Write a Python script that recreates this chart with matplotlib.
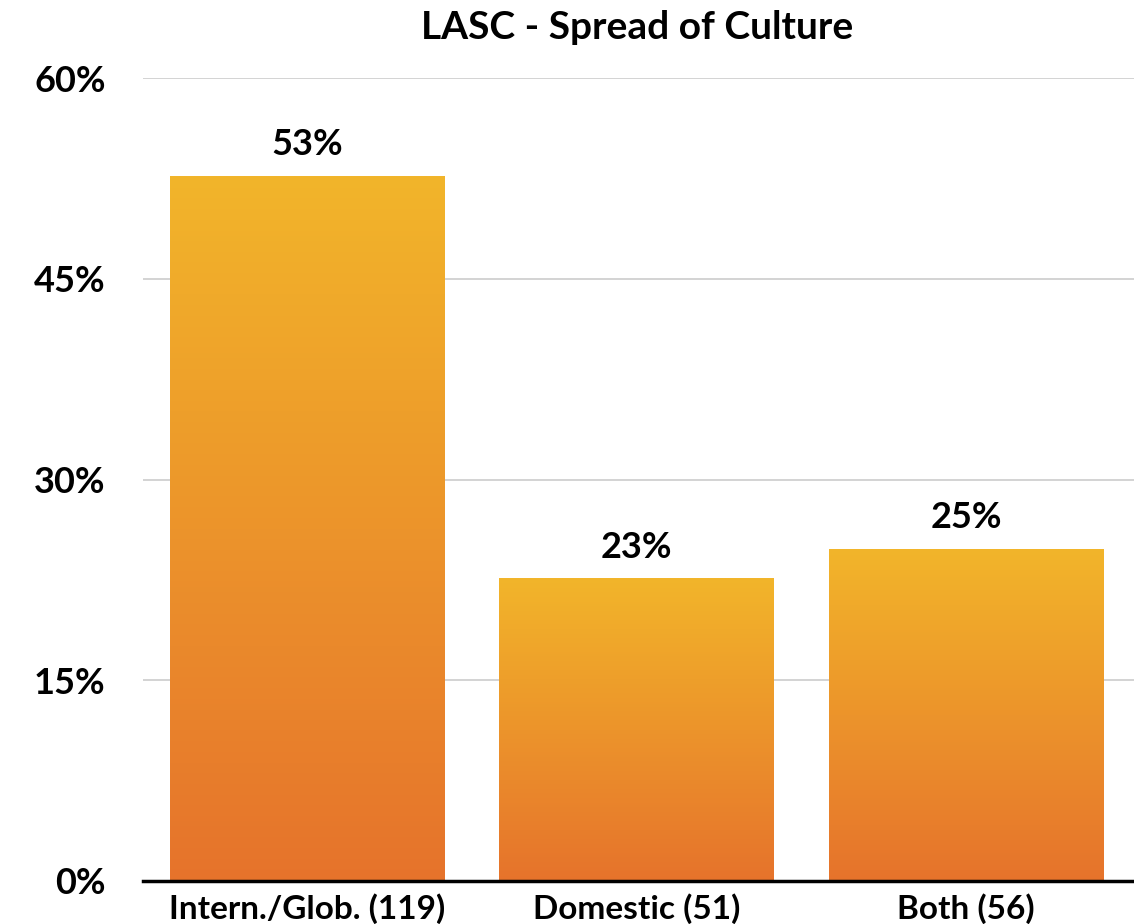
import numpy as np
import matplotlib.pyplot as plt
from matplotlib.colors import LinearSegmentedColormap

plt.rcParams['font.family'] = ['Lato', 'DejaVu Sans']
plt.rcParams['font.weight'] = 'bold'

categories = ['Intern./Glob. (119)', 'Domestic (51)', 'Both (56)']
values = [52.65, 22.57, 24.78]
value_labels = ['53%', '23%', '25%']
yticks = [0, 15, 30, 45, 60]

top_color = '#F2B52A'
bottom_color = '#E6732C'
cmap = LinearSegmentedColormap.from_list('grad', [bottom_color, top_color])

fig = plt.figure(figsize=(11.34, 9.24), dpi=100)
ax = fig.add_axes([143 / 1134, 43 / 924, 991 / 1134, 803 / 924])

x = np.arange(len(categories))
bars = ax.bar(x, values, width=0.835, color='none', zorder=3)

grad = np.linspace(0, 1, 256).reshape(-1, 1)
for b in bars:
    x0, w, h = b.get_x(), b.get_width(), b.get_height()
    ax.imshow(grad, cmap=cmap, origin='lower', aspect='auto',
              extent=[x0, x0 + w, 0, h], zorder=3)

for xi, v, lab in zip(x, values, value_labels):
    ax.annotate(lab, (xi, v), xytext=(0, 11), textcoords='offset points',
                ha='center', va='bottom', fontsize=26)

ax.set_xlim(-0.5, 2.51)
ax.set_ylim(0, 60)
ax.set_yticks(yticks)
ax.set_yticklabels([f'{t}%' for t in yticks], fontsize=26)
ax.set_xticks(x)
ax.set_xticklabels(categories, fontsize=24)
ax.tick_params(axis='both', length=0)
ax.tick_params(axis='y', pad=27)
ax.tick_params(axis='x', pad=9)
ax.grid(axis='y', color='#cccccc', linewidth=1.2, zorder=0)
for s in ['top', 'right', 'left']:
    ax.spines[s].set_visible(False)
ax.spines['bottom'].set_linewidth(2.5)
ax.spines['bottom'].set_zorder(5)

fig.text(0.562, 0.97, 'LASC - Spread of Culture', ha='center', va='center', fontsize=28)

fig.savefig('out.png', dpi=100)
